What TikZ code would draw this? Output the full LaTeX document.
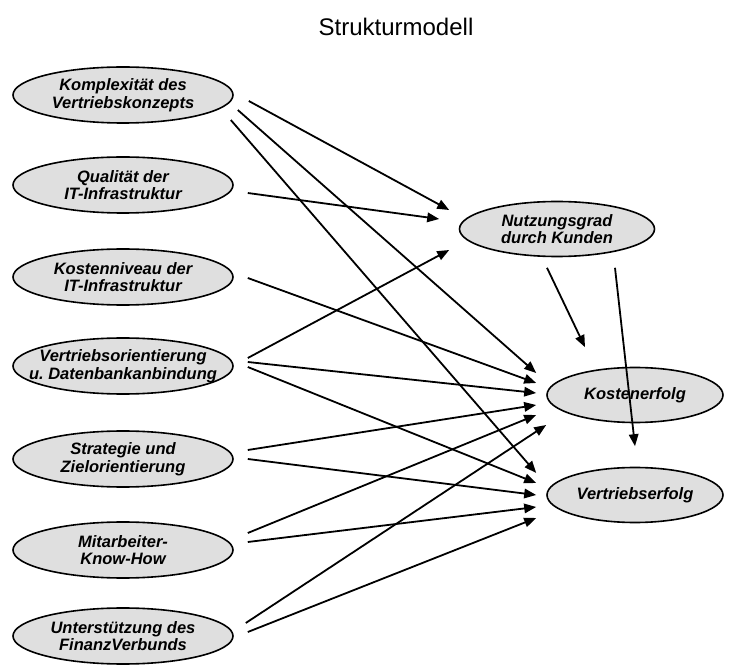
\documentclass[tikz,border=0pt]{standalone}
\usepackage{fontspec}
\setmainfont{Liberation Sans}
\usetikzlibrary{shapes.geometric,arrows.meta}

\begin{document}
\begin{tikzpicture}[x=1pt, y=-1pt,
   latent/.style={ellipse, draw, line width=1.6pt, fill=gray!25, inner sep=0pt,
      minimum width=220pt, minimum height=56pt, align=center, font=\construct},
   overtext/.style={align=center, font=\construct},
   path/.style={line width=1.8pt, -{Triangle[length=12pt,width=9.5pt]}}]
   \newcommand\construct{\fontsize{16.5}{17.5}\selectfont\bfseries\itshape}
   \useasboundingbox (0,0) rectangle (732,668);
   % Title
   \node (title) at (396,27) {\fontsize{24}{26}\selectfont Strukturmodell};
   % Exogenous constructs
   \node [latent] (komplex) at (123,95) {Komplexität des\\Vertriebskonzepts};
   \node [latent] (quali) at (123,185) {Qualität der\\IT-Infrastruktur};
   \node [latent] (kostniv) at (123,277) {Kostenniveau der\\IT-Infrastruktur};
   \node [latent, label={[overtext]center:{Vertriebsorientierung\\u.\ Datenbankanbindung}}] (vertorient) at (123,366) {};
   \node [latent] (strategie) at (123,459) {Strategie und\\Zielorientierung};
   \node [latent] (mitarb) at (123,550) {Mitarbeiter-\\Know-How};
   \node [latent] (unterst) at (123,636) {Unterstützung des\\FinanzVerbunds};
   % Endogenous constructs
   \node [latent, minimum width=195pt, minimum height=55pt] (nutzung) at (557,229) {Nutzungsgrad\\durch Kunden};
   \node [latent, minimum width=176pt, minimum height=55pt] (kosten) at (635,395) {Kostenerfolg};
   \node [latent, minimum width=176pt, minimum height=55pt] (vertrieb) at (635,495) {Vertriebserfolg};
   % Paths
   \draw [path] ([shift={(15,6)}]komplex.east) -- ([shift={(-9.5,-19)}]nutzung.west);
   \draw [path] ([shift={(4,15)}]komplex.east) -- ([shift={(-10,-22)}]kosten.west);
   \draw [path] ([shift={(-3,25)}]komplex.east) -- ([shift={(-10,-22)}]vertrieb.west);
   \draw [path] ([shift={(14,8)}]quali.east) -- ([shift={(-19.5,-10)}]nutzung.west);
   \draw [path] ([shift={(14,1)}]kostniv.east) -- ([shift={(-10,-12)}]kosten.west);
   \draw [path] ([shift={(14,-8)}]vertorient.east) -- ([shift={(-9.5,21)}]nutzung.west);
   \draw [path] ([shift={(14,-4)}]vertorient.east) -- ([shift={(-10,-2)}]kosten.west);
   \draw [path] ([shift={(14,1)}]vertorient.east) -- ([shift={(-10,-12)}]vertrieb.west);
   \draw [path] ([shift={(14,-9)}]strategie.east) -- ([shift={(-10,10)}]kosten.west);
   \draw [path] ([shift={(14,0)}]strategie.east) -- ([shift={(-10,0)}]vertrieb.west);
   \draw [path] ([shift={(14,-17)}]mitarb.east) -- ([shift={(-10,20)}]kosten.west);
   \draw [path] ([shift={(14,-8)}]mitarb.east) -- ([shift={(-10,12)}]vertrieb.west);
   \draw [path] ([shift={(12,-13)}]unterst.east) -- ([shift={(0,30)}]kosten.west);
   \draw [path] ([shift={(14,-4)}]unterst.east) -- ([shift={(-10,23)}]vertrieb.west);
   \draw [path] ([shift={(-10,10.5)}]nutzung.south) -- ([shift={(-50,-19.5)}]kosten.north);
   \draw [path] ([shift={(58,10.5)}]nutzung.south) -- ([shift={(0,-20.5)}]vertrieb.north);
\end{tikzpicture}
\end{document}
